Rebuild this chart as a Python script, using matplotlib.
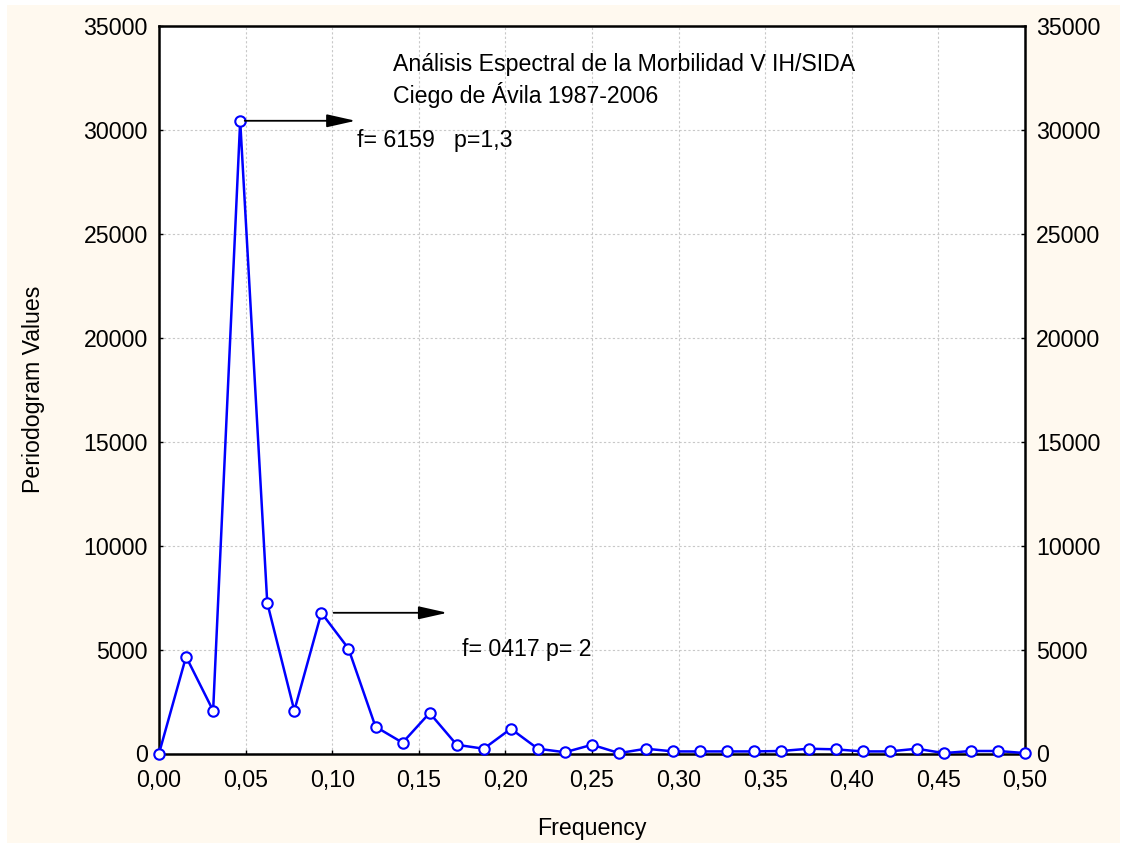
import matplotlib
matplotlib.use("Agg")
import matplotlib.pyplot as plt
from matplotlib.patches import Rectangle
from matplotlib.ticker import FuncFormatter

plt.rcParams['font.family'] = ['Liberation Sans', 'DejaVu Sans']

# Data: frequency index k (frequency = k/64) and periodogram values
freq_index = list(range(33))
periodogram = [0, 4660, 2060, 30440, 7250, 2060, 6770, 5050, 1290, 520,
               1950, 420, 230, 1190, 230, 60, 420, 20, 230, 100,
               100, 100, 100, 120, 230, 200, 100, 100, 230, 20,
               120, 120, 20]
n_points = 64
frequencies = [k / n_points for k in freq_index]

x_ticks = [0.0, 0.05, 0.10, 0.15, 0.20, 0.25, 0.30, 0.35, 0.40, 0.45, 0.50]
y_ticks = [0, 5000, 10000, 15000, 20000, 25000, 30000, 35000]

title_lines = ["Análisis Espectral de la Morbilidad V IH/SIDA", "Ciego de Ávila 1987-2006"]
ann1 = "f= 6159   p=1,3"
ann2 = "f= 0417 p= 2"

FS = 16.7

W, H = 1127, 848
fig = plt.figure(figsize=(W / 100, H / 100), dpi=100, facecolor='white')
fig.patches.append(Rectangle((7 / W, 5 / H), (1120 - 7) / W, (843 - 5) / H,
                             transform=fig.transFigure, facecolor='#FFF9EF',
                             edgecolor='none', zorder=-10))

left, right, top, bottom = 159, 1025, 26, 753.5
ax = fig.add_axes([left / W, 1 - bottom / H, (right - left) / W, (bottom - top) / H])
ax.set_facecolor('white')

ax.plot(frequencies, periodogram, color='#0000FF', lw=1.8, marker='o', ms=7.5,
        mfc='white', mec='#0000FF', mew=1.5, clip_on=False, zorder=3)

ax.set_xlim(0, 0.5)
ax.set_ylim(0, 35000)
ax.set_xticks(x_ticks)
ax.set_yticks(y_ticks)
ax.xaxis.set_major_formatter(FuncFormatter(lambda v, p: f"{v:.2f}".replace('.', ',')))
ax.yaxis.set_major_formatter(FuncFormatter(lambda v, p: f"{int(v)}"))
ax.tick_params(axis='both', direction='in', length=3, width=1, labelsize=FS,
               colors='black')
ax.tick_params(axis='x', pad=11)
ax.tick_params(axis='y', right=True, labelright=True, pad=8)
ax.grid(True, color='#C8C8C8', linestyle=(0, (2, 2)), lw=0.8)
for s in ax.spines.values():
    s.set_linewidth(1.8)

ax.set_xlabel("Frequency", fontsize=FS, labelpad=18)
ax.set_ylabel("Periodogram Values", fontsize=FS, labelpad=28)

ax.text(0.135, 33170, title_lines[0], fontsize=FS, va='center', ha='left')
ax.text(0.135, 31680, title_lines[1], fontsize=FS, va='center', ha='left')

astyle = '-|>,head_length=0.8,head_width=0.18'
ax.annotate("", xy=(0.1135, 30440), xytext=(0.0495, 30440),
            arrowprops=dict(arrowstyle=astyle, color='black', lw=1.3,
                            mutation_scale=22, shrinkA=0, shrinkB=0))
ax.text(0.1143, 29470, ann1, fontsize=FS, va='center', ha='left')

ax.annotate("", xy=(0.1665, 6770), xytext=(0.1008, 6770),
            arrowprops=dict(arrowstyle=astyle, color='black', lw=1.3,
                            mutation_scale=22, shrinkA=0, shrinkB=0))
ax.text(0.175, 4980, ann2, fontsize=FS, va='center', ha='left')

fig.savefig("out.png", dpi=100, facecolor=fig.get_facecolor())
